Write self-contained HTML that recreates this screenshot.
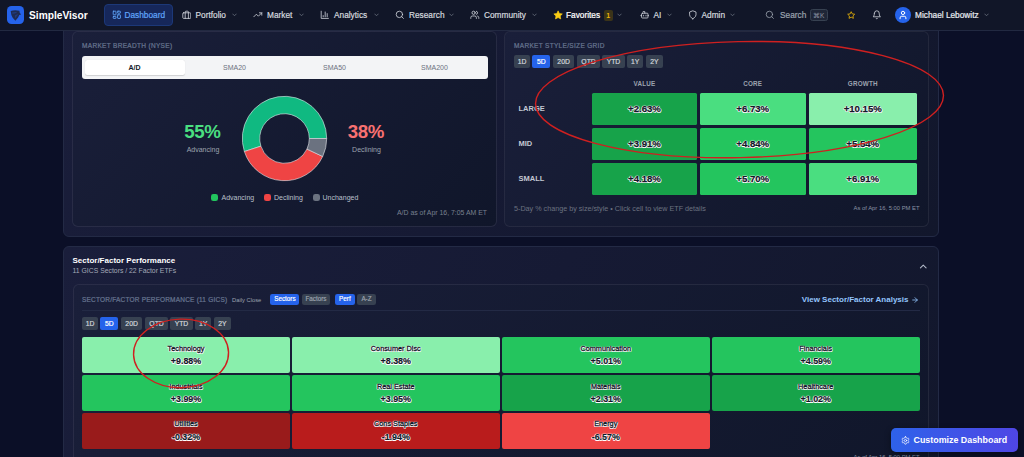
<!DOCTYPE html>
<html>
<head>
<meta charset="utf-8">
<title>SimpleVisor Dashboard</title>
<style>
*{box-sizing:border-box;margin:0;padding:0}
html,body{width:1024px;height:457px;overflow:hidden;background:#0b0f27;font-family:"Liberation Sans",sans-serif;}
body{position:relative;color:#d1d5db}
.a{position:absolute}
.t{position:absolute;white-space:nowrap;line-height:1}
/* nav */
#nav{position:absolute;left:0;top:0;width:1024px;height:31.2px;background:#111628;border-bottom:1px solid #222941;z-index:20}
.nt{position:absolute;white-space:nowrap;font-size:8.3px;line-height:10px;top:9.7px;color:#d4d8df;-webkit-text-stroke:0.2px currentColor}
.chev{position:absolute;top:13px;width:5px;height:4px}
.ico{position:absolute}
/* sections */
.sec{position:absolute;background:linear-gradient(120deg,#1a1e3b 0%,#161a34 50%,#12172c 100%);border:1px solid #232a45;border-radius:6px}
.card{position:absolute;background:linear-gradient(135deg,#1a1f3a 0%,#10162a 100%);border:1px solid rgba(255,255,255,.07);border-radius:6px;background-clip:padding-box}
.ct{position:absolute;white-space:nowrap;font-size:6.5px;letter-spacing:.32px;color:#66748f;line-height:8px;-webkit-text-stroke:0.22px #66748f}
.btn{position:absolute;height:13px;border-radius:2px;background:#374151;color:#d1d5db;font-size:6.8px;line-height:13.2px;-webkit-text-stroke:0.2px currentColor;text-align:center;white-space:nowrap}
.btn.on{background:#2563eb;color:#fff}
.sb{position:absolute;height:10.5px;border-radius:2.3px;background:#374151;color:#9ca3af;font-size:6.3px;line-height:10.7px;-webkit-text-stroke:0.18px currentColor;text-align:center;white-space:nowrap}
.sb.on{background:#2563eb;color:#fff}
.cell{position:absolute;border-radius:1.5px;-webkit-text-stroke:0.25px #111827;text-align:center;color:#111827;font-weight:bold;font-size:9.6px;white-space:nowrap;
 text-shadow:0 0 1.2px #fff,0 0 1.2px #fff,0 0 1.2px #fff,0.5px 0.5px 0 #fff,-0.5px -0.5px 0 #fff,0.5px -0.5px 0 #fff,-0.5px 0.5px 0 #fff}
.sc{position:absolute;border-radius:2px;text-align:center;color:#111827;white-space:nowrap;
 text-shadow:0 0 1.2px #fff,0 0 1.2px #fff,0 0 1.2px #fff,0.5px 0.5px 0 #fff,-0.5px -0.5px 0 #fff,0.5px -0.5px 0 #fff,-0.5px 0.5px 0 #fff}
.sc .n{position:absolute;left:0;right:0;top:7.400px;font-size:7.3px;line-height:8px;-webkit-text-stroke:0.3px #111827}
.sc .v{position:absolute;left:0;right:0;top:18.700px;font-size:8.9px;line-height:10px;font-weight:bold;-webkit-text-stroke:0.2px #111827}
</style>
</head>
<body>

<!-- ===== NAV ===== -->
<div id="nav">
  <div class="a" style="left:7px;top:6px;width:17.200px;height:18px;border-radius:4.500px;background:#2563eb"></div>
  <svg class="a" style="left:7px;top:6px" width="18" height="18" viewBox="7 6 18 18"><path d="M10.700,10.900 Q15,9.700 19.400,10.800 L19.700,12.700 L21.100,14.400 L19.300,15.100 L18.100,17.600 L15.400,20.800 L12.700,17.800 Q10.900,14.600 10.700,10.900 Z" fill="#1f2b52"/><path d="M12,12.500 L17.200,11.900 L15.600,13.300 L12.600,13.700 Z" fill="#2563eb" opacity=".35"/><path d="M15,15.200 L18.400,13.900 L16.200,16.800 L15.200,18.600 Z" fill="#2563eb" opacity=".3"/></svg>
  <div class="t" style="left:29px;top:10px;font-size:10.2px;font-weight:bold;color:#fff;line-height:11px">SimpleVisor</div>

  <div class="a" style="left:104px;top:4px;width:69px;height:22px;border-radius:4px;background:#16275a;border:1px solid #1c3878"></div>
  <svg class="a" style="left:112.00px;top:10.20px" width="9.6" height="9.6" viewBox="0 0 24 24" fill="none" stroke="#60a5fa" stroke-width="2.200" stroke-linecap="round" stroke-linejoin="round"><rect x="3" y="3" width="7" height="9" rx="1"/><rect x="14" y="3" width="7" height="5" rx="1"/><rect x="14" y="12" width="7" height="9" rx="1"/><rect x="3" y="16" width="7" height="5" rx="1"/></svg>
  <div class="nt" style="left:124.500px;color:#60a5fa">Dashboard</div>

  <svg class="a" style="left:181.50px;top:10.20px" width="9.6" height="9.6" viewBox="0 0 24 24" fill="none" stroke="#d4d8df" stroke-width="2" stroke-linecap="round" stroke-linejoin="round"><rect x="2" y="7" width="20" height="14" rx="2"/><path d="M16 21V5a2 2 0 0 0-2-2h-4a2 2 0 0 0-2 2v16"/></svg>
  <div class="nt" style="left:195.500px">Portfolio</div>
  <svg class="chev" style="left:232px" viewBox="0 0 10 8" fill="none" stroke="#6b7280" stroke-width="1.600" stroke-linecap="round" stroke-linejoin="round"><path d="M1.500 2l3.500 3.500L8.500 2"/></svg>

  <svg class="a" style="left:252.95px;top:10.20px" width="9.6" height="9.6" viewBox="0 0 24 24" fill="none" stroke="#d4d8df" stroke-width="2" stroke-linecap="round" stroke-linejoin="round"><polyline points="22 7 13.500 15.500 8.500 10.500 2 17"/><polyline points="16 7 22 7 22 13"/></svg>
  <div class="nt" style="left:267px">Market</div>
  <svg class="chev" style="left:298.500px" viewBox="0 0 10 8" fill="none" stroke="#6b7280" stroke-width="1.600" stroke-linecap="round" stroke-linejoin="round"><path d="M1.500 2l3.500 3.500L8.500 2"/></svg>

  <svg class="a" style="left:319.70px;top:10.20px" width="9.6" height="9.6" viewBox="0 0 24 24" fill="none" stroke="#d4d8df" stroke-width="2" stroke-linecap="round" stroke-linejoin="round"><path d="M3 3v18h18"/><path d="M18 17V9"/><path d="M13 17V5"/><path d="M8 17v-3"/></svg>
  <div class="nt" style="left:334px">Analytics</div>
  <svg class="chev" style="left:373.500px" viewBox="0 0 10 8" fill="none" stroke="#6b7280" stroke-width="1.600" stroke-linecap="round" stroke-linejoin="round"><path d="M1.500 2l3.500 3.500L8.500 2"/></svg>

  <svg class="a" style="left:395.20px;top:10.20px" width="9.6" height="9.6" viewBox="0 0 24 24" fill="none" stroke="#d4d8df" stroke-width="2" stroke-linecap="round" stroke-linejoin="round"><circle cx="11" cy="11" r="8"/><path d="M21 21l-4.300-4.300"/></svg>
  <div class="nt" style="left:409px">Research</div>
  <svg class="chev" style="left:448.500px" viewBox="0 0 10 8" fill="none" stroke="#6b7280" stroke-width="1.600" stroke-linecap="round" stroke-linejoin="round"><path d="M1.500 2l3.500 3.500L8.500 2"/></svg>

  <svg class="a" style="left:469.95px;top:10.20px" width="9.6" height="9.6" viewBox="0 0 24 24" fill="none" stroke="#d4d8df" stroke-width="2" stroke-linecap="round" stroke-linejoin="round"><path d="M16 21v-2a4 4 0 0 0-4-4H6a4 4 0 0 0-4 4v2"/><circle cx="9" cy="7" r="4"/><path d="M22 21v-2a4 4 0 0 0-3-3.870"/><path d="M16 3.130a4 4 0 0 1 0 7.750"/></svg>
  <div class="nt" style="left:484px">Community</div>
  <svg class="chev" style="left:531.500px" viewBox="0 0 10 8" fill="none" stroke="#6b7280" stroke-width="1.600" stroke-linecap="round" stroke-linejoin="round"><path d="M1.500 2l3.500 3.500L8.500 2"/></svg>

  <svg class="a" style="left:552.65px;top:9.90px" width="10.2" height="10.2" viewBox="0 0 24 24" fill="#facc15" stroke="#facc15" stroke-width="1.500" stroke-linejoin="round"><polygon points="12 2 15.090 8.260 22 9.270 17 14.140 18.180 21.020 12 17.770 5.820 21.020 7 14.140 2 9.270 8.910 8.260 12 2"/></svg>
  <div class="nt" style="left:566px;color:#fff;-webkit-text-stroke:0.22px #fff">Favorites</div>
  <div class="a" style="left:603.500px;top:9.500px;width:9.500px;height:11px;border-radius:2px;background:#3b3419;color:#eab308;font-size:7px;font-weight:bold;line-height:11px;text-align:center">1</div>
  <svg class="chev" style="left:617px" viewBox="0 0 10 8" fill="none" stroke="#6b7280" stroke-width="1.600" stroke-linecap="round" stroke-linejoin="round"><path d="M1.500 2l3.500 3.500L8.500 2"/></svg>

  <svg class="a" style="left:639.70px;top:10.20px" width="9.6" height="9.6" viewBox="0 0 24 24" fill="none" stroke="#d4d8df" stroke-width="2" stroke-linecap="round" stroke-linejoin="round"><path d="M12 8V4H8"/><rect x="4" y="8" width="16" height="12" rx="2"/><path d="M2 14h2"/><path d="M20 14h2"/><path d="M15 13v2"/><path d="M9 13v2"/></svg>
  <div class="nt" style="left:653.500px">AI</div>
  <svg class="chev" style="left:666.500px" viewBox="0 0 10 8" fill="none" stroke="#6b7280" stroke-width="1.600" stroke-linecap="round" stroke-linejoin="round"><path d="M1.500 2l3.500 3.500L8.500 2"/></svg>

  <svg class="a" style="left:687.70px;top:10.20px" width="9.6" height="9.6" viewBox="0 0 24 24" fill="none" stroke="#d4d8df" stroke-width="2" stroke-linecap="round" stroke-linejoin="round"><path d="M12 22s8-4 8-10V5l-8-3-8 3v7c0 6 8 10 8 10z"/></svg>
  <div class="nt" style="left:701.500px">Admin</div>
  <svg class="chev" style="left:730px" viewBox="0 0 10 8" fill="none" stroke="#6b7280" stroke-width="1.600" stroke-linecap="round" stroke-linejoin="round"><path d="M1.500 2l3.500 3.500L8.500 2"/></svg>

  <svg class="a" style="left:765.20px;top:10.20px" width="9.6" height="9.6" viewBox="0 0 24 24" fill="none" stroke="#9ca3af" stroke-width="2" stroke-linecap="round" stroke-linejoin="round"><circle cx="11" cy="11" r="8"/><path d="M21 21l-4.300-4.300"/></svg>
  <div class="nt" style="left:780px;color:#9ca3af">Search</div>
  <div class="a" style="left:810px;top:8.500px;width:17.500px;height:12.500px;border-radius:2.500px;background:#1f2637;border:1px solid #374151;color:#8b93a3;font-size:6.500px;line-height:11.500px;text-align:center">&#8984;K</div>

  <svg class="a" style="left:847.05px;top:10.80px" width="8.4" height="8.4" viewBox="0 0 24 24" fill="none" stroke="#eab308" stroke-width="2.400" stroke-linejoin="round"><polygon points="12 2 15.090 8.260 22 9.270 17 14.140 18.180 21.020 12 17.770 5.820 21.020 7 14.140 2 9.270 8.910 8.260 12 2"/></svg>
  <svg class="a" style="left:871.95px;top:10.20px" width="9.6" height="9.6" viewBox="0 0 24 24" fill="none" stroke="#d4d8df" stroke-width="2" stroke-linecap="round" stroke-linejoin="round"><path d="M6 8a6 6 0 0 1 12 0c0 7 3 9 3 9H3s3-2 3-9"/><path d="M10.300 21a1.940 1.940 0 0 0 3.400 0"/></svg>
  <div class="a" style="left:895px;top:7px;width:16px;height:16px;border-radius:8px;background:#2563eb"></div>
  <svg class="a" style="left:898px;top:10.200px" width="10" height="10" viewBox="0 0 24 24" fill="none" stroke="#fff" stroke-width="2.400" stroke-linecap="round" stroke-linejoin="round"><path d="M19 21v-2a4 4 0 0 0-4-4H9a4 4 0 0 0-4 4v2"/><circle cx="12" cy="7" r="4"/></svg>
  <div class="nt" style="left:915px;color:#e8ebf0">Michael Lebowitz</div>
  <svg class="chev" style="left:984px" viewBox="0 0 10 8" fill="none" stroke="#6b7280" stroke-width="1.600" stroke-linecap="round" stroke-linejoin="round"><path d="M1.500 2l3.500 3.500L8.500 2"/></svg>
</div>

<!-- ===== SECTION 1 ===== -->
<div class="sec" style="left:63px;top:-20px;width:876px;height:257px"></div>

<!-- Market breadth card -->
<div class="card" style="left:72.300px;top:31.300px;width:424.600px;height:195.600px"></div>
<div class="ct" style="left:82px;top:41.500px">MARKET BREADTH (NYSE)</div>
<div class="a" style="left:82px;top:56.300px;width:406px;height:22.400px;border-radius:3px;background:#f3f4f6"></div>
<div class="a" style="left:84.700px;top:59.700px;width:100px;height:15.500px;border-radius:2.500px;background:#fff;box-shadow:0 0.500px 1px rgba(0,0,0,.15)"></div>
<div class="t" style="left:84.500px;width:100px;top:64px;text-align:center;font-size:7px;font-weight:bold;color:#111827">A/D</div>
<div class="t" style="left:184.500px;width:100px;top:64px;text-align:center;font-size:7px;color:#6b7280">SMA20</div>
<div class="t" style="left:284.500px;width:100px;top:64px;text-align:center;font-size:7px;color:#6b7280">SMA50</div>
<div class="t" style="left:384.500px;width:100px;top:64px;text-align:center;font-size:7px;color:#6b7280">SMA200</div>

<svg class="a" style="left:236px;top:90px" width="97" height="97" viewBox="-48.500 -48.500 97 97">
  <g stroke="#e5e7eb" stroke-width="0.600" stroke-linejoin="round">
  <path fill="#10b981" d="M42.20,-0.00A42.2,42.2 0 1 0 -40.13,13.04L-23.59,7.66A24.8,24.8 0 1 1 24.80,-0.00Z"/>
  <path fill="#ef4444" d="M-40.13,13.04A42.2,42.2 0 0 0 38.18,17.97L22.44,10.56A24.8,24.8 0 0 1 -23.59,7.66Z"/>
  <path fill="#6b7280" d="M38.18,17.97A42.2,42.2 0 0 0 42.20,0.00L24.80,0.00A24.8,24.8 0 0 1 22.44,10.56Z"/>
  </g>
</svg>

<div class="t" style="left:184.200px;top:123.400px;font-size:18.700px;font-weight:bold;color:#4ade80;letter-spacing:-.3px">55%</div>
<div class="t" style="left:153px;width:100px;text-align:center;top:145.500px;font-size:7px;color:#9ca3af">Advancing</div>
<div class="t" style="left:347.700px;top:123.400px;font-size:18.700px;font-weight:bold;color:#f87171;letter-spacing:-.3px">38%</div>
<div class="t" style="left:316.500px;width:100px;text-align:center;top:145.500px;font-size:7px;color:#9ca3af">Declining</div>

<div class="a" style="left:211px;top:194px;width:7px;height:7px;border-radius:2.3px;background:#22c55e"></div>
<div class="t" style="left:221.500px;top:194px;font-size:7px;color:#bac0cc">Advancing</div>
<div class="a" style="left:264px;top:194px;width:7px;height:7px;border-radius:2.3px;background:#ef4444"></div>
<div class="t" style="left:274px;top:194px;font-size:7px;color:#bac0cc">Declining</div>
<div class="a" style="left:312.500px;top:194px;width:7px;height:7px;border-radius:2.3px;background:#6b7280"></div>
<div class="t" style="left:322.500px;top:194px;font-size:7px;color:#bac0cc">Unchanged</div>
<div class="t" style="right:537px;top:210.200px;font-size:6.900px;color:#78808f">A/D as of Apr 16, 7:05 AM ET</div>

<!-- Style grid card -->
<div class="card" style="left:504.400px;top:31.300px;width:424.400px;height:195.600px"></div>
<div class="ct" style="left:514px;top:41.500px">MARKET STYLE/SIZE GRID</div>
<div class="btn" style="left:514.0px;top:54.600px;width:16.0px">1D</div>
<div class="btn on" style="left:532.4px;top:54.600px;width:17.8px">5D</div>
<div class="btn" style="left:552.8px;top:54.600px;width:21.6px">20D</div>
<div class="btn" style="left:577.4px;top:54.600px;width:22.3px">QTD</div>
<div class="btn" style="left:602.3px;top:54.600px;width:22.3px">YTD</div>
<div class="btn" style="left:627.4px;top:54.600px;width:15.5px">1Y</div>
<div class="btn" style="left:645.7px;top:54.600px;width:17.6px">2Y</div>

<div class="t" style="left:592px;width:105px;text-align:center;top:80.500px;font-size:6.300px;font-weight:bold;color:#9ca3af;letter-spacing:.2px">VALUE</div>
<div class="t" style="left:700px;width:105.500px;text-align:center;top:80.500px;font-size:6.300px;font-weight:bold;color:#9ca3af;letter-spacing:.2px">CORE</div>
<div class="t" style="left:808.500px;width:108.500px;text-align:center;top:80.500px;font-size:6.300px;font-weight:bold;color:#9ca3af;letter-spacing:.2px">GROWTH</div>

<div class="t" style="left:518.500px;top:104.500px;font-size:7.500px;font-weight:bold;color:#c3c8d3">LARGE</div>
<div class="t" style="left:518.500px;top:139.500px;font-size:7.500px;font-weight:bold;color:#c3c8d3">MID</div>
<div class="t" style="left:518.500px;top:174.500px;font-size:7.500px;font-weight:bold;color:#c3c8d3">SMALL</div>

<div class="cell" style="left:592px;top:92.500px;width:105px;height:32px;line-height:32px;background:#17a34a">+2.63%</div>
<div class="cell" style="left:700px;top:92.500px;width:105.500px;height:32px;line-height:32px;background:#4ade80">+6.73%</div>
<div class="cell" style="left:808.500px;top:92.500px;width:108.500px;height:32px;line-height:32px;background:#89efac">+10.15%</div>
<div class="cell" style="left:592px;top:127.500px;width:105px;height:32px;line-height:32px;background:#17a34a">+3.91%</div>
<div class="cell" style="left:700px;top:127.500px;width:105.500px;height:32px;line-height:32px;background:#24c55e">+4.84%</div>
<div class="cell" style="left:808.500px;top:127.500px;width:108.500px;height:32px;line-height:32px;background:#24c55e">+5.54%</div>
<div class="cell" style="left:592px;top:162.500px;width:105px;height:32px;line-height:32px;background:#17a34a">+4.18%</div>
<div class="cell" style="left:700px;top:162.500px;width:105.500px;height:32px;line-height:32px;background:#24c55e">+5.70%</div>
<div class="cell" style="left:808.500px;top:162.500px;width:108.500px;height:32px;line-height:32px;background:#4ade80">+6.91%</div>

<div class="t" style="left:514px;top:204.800px;font-size:7.200px;color:#6b7280">5-Day % change by size/style &bull; Click cell to view ETF details</div>
<div class="t" style="right:104.500px;top:206.300px;font-size:5.850px;color:#8a92a3">As of Apr 16, 5:00 PM ET</div>

<!-- ===== SECTION 2 ===== -->
<div class="sec" style="left:63px;top:246px;width:876px;height:260px"></div>
<div class="t" style="left:72.500px;top:257.400px;font-size:8px;font-weight:bold;color:#fff">Sector/Factor Performance</div>
<div class="t" style="left:72.500px;top:268.300px;font-size:6.850px;color:#a3a9b8">11 GICS Sectors / 22 Factor ETFs</div>
<svg class="a" style="left:919.200px;top:262.600px" width="8.500" height="6.500" viewBox="0 0 10 8" fill="none" stroke="#b4bbca" stroke-width="1.250" stroke-linecap="round" stroke-linejoin="round"><path d="M1.500 6l3.500-3.500L8.500 6"/></svg>

<div class="card" style="left:73px;top:284px;width:856px;height:220px"></div>
<div class="ct" style="left:82px;top:295.700px;letter-spacing:.21px">SECTOR/FACTOR PERFORMANCE (11 GICS)</div>
<div class="t" style="left:232px;top:297.800px;font-size:5.800px;color:#9ca3af">Daily Close</div>
<div class="sb on" style="left:270.300px;top:294.300px;width:29.200px">Sectors</div>
<div class="sb" style="left:301.900px;top:294.300px;width:28.100px">Factors</div>
<div class="sb on" style="left:335.100px;top:294.300px;width:19.600px">Perf</div>
<div class="sb" style="left:357.200px;top:294.300px;width:18.600px">A-Z</div>
<div class="t" style="right:115.500px;top:295.700px;font-size:8px;font-weight:bold;color:#93c5fd">View Sector/Factor Analysis</div>
<svg class="a" style="left:911.300px;top:295.500px" width="8" height="8" viewBox="0 0 24 24" fill="none" stroke="#93c5fd" stroke-width="2.400" stroke-linecap="round" stroke-linejoin="round"><path d="M5 12h14"/><path d="M12 5l7 7-7 7"/></svg>
<div class="a" style="left:82px;top:309.500px;width:838px;height:1px;background:#232a45"></div>

<div class="btn" style="left:82.0px;top:316.900px;width:16.0px">1D</div>
<div class="btn on" style="left:100.4px;top:316.900px;width:17.8px">5D</div>
<div class="btn" style="left:120.8px;top:316.900px;width:21.6px">20D</div>
<div class="btn" style="left:145.4px;top:316.900px;width:22.3px">QTD</div>
<div class="btn" style="left:170.3px;top:316.900px;width:22.3px">YTD</div>
<div class="btn" style="left:195.4px;top:316.900px;width:15.5px">1Y</div>
<div class="btn" style="left:213.7px;top:316.900px;width:17.6px">2Y</div>

<div class="sc" style="left:82px;top:337.300px;width:208px;height:35.700px;background:#89efac"><div class="n">Technology</div><div class="v">+9.88%</div></div>
<div class="sc" style="left:292px;top:337.300px;width:207.500px;height:35.700px;background:#89efac"><div class="n">Consumer Disc</div><div class="v">+8.38%</div></div>
<div class="sc" style="left:502px;top:337.300px;width:207.500px;height:35.700px;background:#24c55e"><div class="n">Communication</div><div class="v">+5.01%</div></div>
<div class="sc" style="left:712px;top:337.300px;width:207.500px;height:35.700px;background:#24c55e"><div class="n">Financials</div><div class="v">+4.59%</div></div>

<div class="sc" style="left:82px;top:375.200px;width:208px;height:35.500px;background:#24c55e"><div class="n">Industrials</div><div class="v">+3.99%</div></div>
<div class="sc" style="left:292px;top:375.200px;width:207.500px;height:35.500px;background:#24c55e"><div class="n">Real Estate</div><div class="v">+3.95%</div></div>
<div class="sc" style="left:502px;top:375.200px;width:207.500px;height:35.500px;background:#17a34a"><div class="n">Materials</div><div class="v">+2.31%</div></div>
<div class="sc" style="left:712px;top:375.200px;width:207.500px;height:35.500px;background:#17a34a"><div class="n">Healthcare</div><div class="v">+1.02%</div></div>

<div class="sc" style="left:82px;top:413px;width:208px;height:36.200px;background:#991b1b"><div class="n">Utilities</div><div class="v">-0.32%</div></div>
<div class="sc" style="left:292px;top:413px;width:207.500px;height:36.200px;background:#b91c1c"><div class="n">Cons Staples</div><div class="v">-1.94%</div></div>
<div class="sc" style="left:502px;top:413px;width:207.500px;height:36.200px;background:#ef4444"><div class="n">Energy</div><div class="v">-6.57%</div></div>

<div class="t" style="right:104.500px;top:454.700px;font-size:5.850px;color:#8a92a3">As of Apr 16, 5:00 PM ET</div>

<!-- annotations -->
<svg class="a" style="left:0;top:0;z-index:30;pointer-events:none" width="1024" height="457" viewBox="0 0 1024 457" fill="none" stroke="#cf2020" stroke-width="1.400">
  <ellipse cx="739.500" cy="99.600" rx="204" ry="58" transform="rotate(-1.200 739.500 99.600)"/>
  <ellipse cx="181.050" cy="353.400" rx="47.500" ry="34.300" transform="rotate(-1.500 181.050 353.400)"/>
</svg>

<!-- customize button -->
<div class="a" style="left:890.500px;top:428.300px;width:127.500px;height:23.600px;border-radius:5px;background:linear-gradient(90deg,#2e62ea,#4f46e5);z-index:25;box-shadow:0 2px 6px rgba(0,0,0,.4)"></div>
<svg class="a" style="left:900.500px;top:436px;z-index:26" width="9" height="9" viewBox="0 0 24 24" fill="none" stroke="#fff" stroke-width="2" stroke-linecap="round" stroke-linejoin="round"><path d="M12.220 2h-.440a2 2 0 0 0-2 2v.180a2 2 0 0 1-1 1.730l-.430.250a2 2 0 0 1-2 0l-.150-.080a2 2 0 0 0-2.730.730l-.220.380a2 2 0 0 0 .730 2.730l.150.100a2 2 0 0 1 1 1.720v.510a2 2 0 0 1-1 1.740l-.150.090a2 2 0 0 0-.730 2.730l.220.380a2 2 0 0 0 2.730.730l.150-.080a2 2 0 0 1 2 0l.430.250a2 2 0 0 1 1 1.730V20a2 2 0 0 0 2 2h.440a2 2 0 0 0 2-2v-.180a2 2 0 0 1 1-1.730l.430-.250a2 2 0 0 1 2 0l.150.080a2 2 0 0 0 2.730-.730l.220-.390a2 2 0 0 0-.730-2.730l-.150-.080a2 2 0 0 1-1-1.740v-.500a2 2 0 0 1 1-1.740l.150-.090a2 2 0 0 0 .730-2.730l-.220-.380a2 2 0 0 0-2.730-.730l-.150.080a2 2 0 0 1-2 0l-.430-.250a2 2 0 0 1-1-1.730V4a2 2 0 0 0-2-2z"/><circle cx="12" cy="12" r="3"/></svg>
<div class="t" style="left:913.500px;top:435.500px;font-size:8.900px;font-weight:bold;color:#fff;z-index:26">Customize Dashboard</div>

</body>
</html>
